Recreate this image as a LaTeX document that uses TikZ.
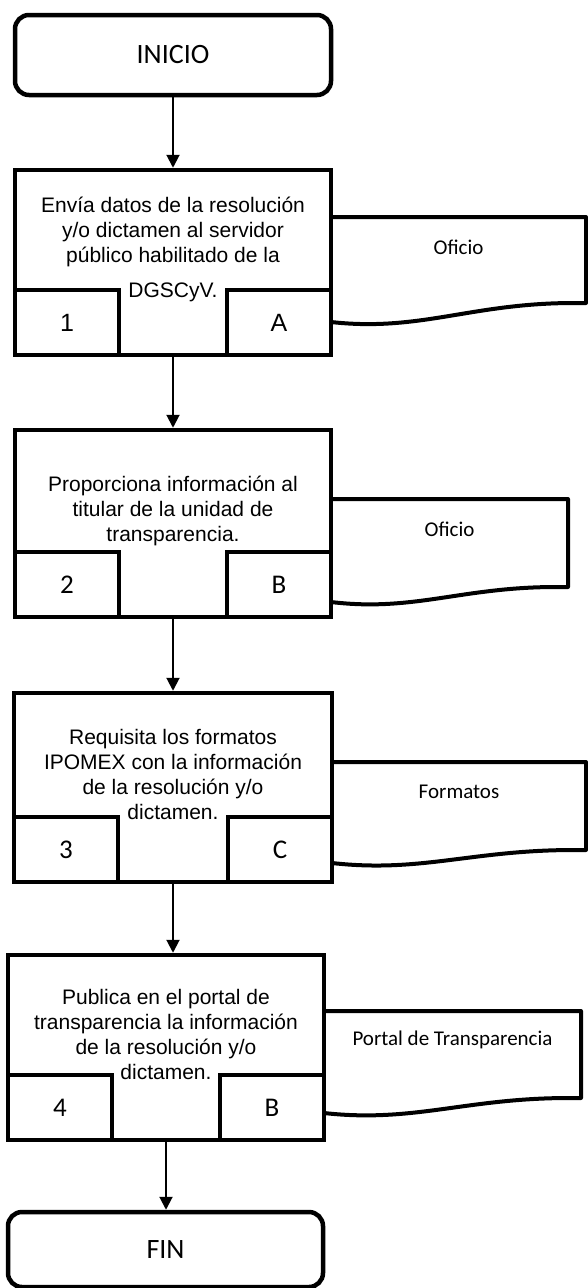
\documentclass[tikz,border=0pt]{standalone}
\usepackage{fontspec}
\setmainfont{Liberation Sans}
\newfontfamily\calibri{Carlito}
\usetikzlibrary{arrows.meta}
\tikzset{
  term/.style={draw, line width=4.5pt, rounded corners=14pt, minimum width=316pt, minimum height=80pt, inner sep=0pt, font=\calibri\fontsize{28}{32}\selectfont},
  proc/.style={draw, line width=4.5pt, minimum width=316pt, minimum height=185pt, inner sep=0pt},
  proctext/.style={align=center, inner sep=0pt, font=\fontsize{21}{25}\selectfont},
  subbox/.style={draw, line width=4.5pt, minimum width=104pt, minimum height=65pt, inner sep=0pt, font=\calibri\fontsize{27}{30}\selectfont},
  doclabel/.style={inner sep=0pt, font=\calibri\fontsize{21}{25}\selectfont},
  docline/.style={line width=4pt, line join=round},
  flecha/.style={line width=2pt, -{Triangle[width=13pt,length=13pt]}}
}
% document symbol: left x, top, right x, right bottom, wave left
\newcommand{\docshape}[5]{%
  \draw[docline] (#1,#2) -- (#3,#2) -- (#3,#4) -- ({#3-12},#4)
    .. controls ({#3-0.45*(#3-#1)},#4) and ({#1+0.35*(#3-#1)},{#5+10}) .. (#1,#5);
}
\begin{document}
\begin{tikzpicture}[x=1pt, y=-1pt]
  \useasboundingbox (0,0) rectangle (588,1288);

  \node[term] (ini) at (173,55) {INICIO};

  % paso 1
  \node[proc] (p1) at (173,262.5) {};
  \node[proctext] (t1) at ([yshift=13pt]p1.center) {Envía datos de la resolución\\ y/o dictamen al servidor\\ público habilitado de la\\[10pt] DGSCyV.};
  \node[subbox, anchor=south west, font=\fontsize{25}{30}\selectfont] (n1) at (p1.south west) {1};
  \node[subbox, anchor=south east, font=\fontsize{25}{30}\selectfont] (r1) at (p1.south east) {A};
  \docshape{331}{217}{586}{303}{322}
  \node[doclabel] (d1) at (458.5,247) {Oficio};

  % paso 2
  \node[proc, minimum height=187pt] (p2) at (173,523.5) {};
  \node[proctext] (t2) at ([yshift=13pt]p2.center) {Proporciona información al\\ titular de la unidad de\\ transparencia.};
  \node[subbox, anchor=south west] (n2) at (p2.south west) {2};
  \node[subbox, anchor=south east] (r2) at (p2.south east) {B};
  \docshape{331}{499}{568}{587}{602}
  \node[doclabel] (d2) at (449.5,529) {Oficio};

  % paso 3
  \node[proc, minimum width=318pt, minimum height=189pt] (p3) at (173,787.5) {};
  \node[proctext] (t3) at ([yshift=13pt]p3.center) {Requisita los formatos\\ IPOMEX con la información\\ de la resolución y/o\\ dictamen.};
  \node[subbox, anchor=south west] (n3) at (p3.south west) {3};
  \node[subbox, anchor=south east] (r3) at (p3.south east) {C};
  \docshape{332}{762}{586}{850}{863}
  \node[doclabel] (d3) at (459,792) {Formatos};

  % paso 4
  \node[proc] (p4) at (166,1047.5) {};
  \node[proctext] (t4) at ([yshift=13pt]p4.center) {Publica en el portal de\\ transparencia la información\\ de la resolución y/o\\ dictamen.};
  \node[subbox, anchor=south west] (n4) at (p4.south west) {4};
  \node[subbox, anchor=south east] (r4) at (p4.south east) {B};
  \docshape{324}{1011}{581}{1098}{1113}
  \node[doclabel] (d4) at (452.5,1040) {Portal de Transparencia};

  \node[term, minimum width=315pt, minimum height=75pt] (fin) at (165.5,1249.5) {FIN};

  \draw[flecha] (ini) -- (p1);
  \draw[flecha] (p1) -- (p2);
  \draw[flecha] (p2) -- (p3);
  \draw[flecha] (p3.south) -- (p3.south |- p4.north);
  \draw[flecha] (p4.south) -- (p4.south |- fin.north);
\end{tikzpicture}
\end{document}
